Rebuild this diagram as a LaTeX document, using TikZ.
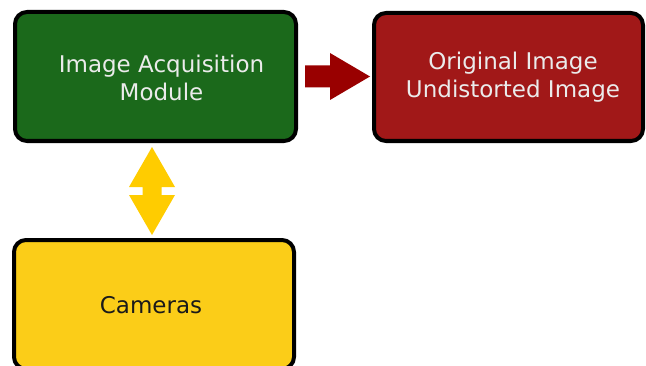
\documentclass[tikz,border=0pt]{standalone}
\usepackage{fontspec}
\setmainfont{DejaVu Sans}
\usetikzlibrary{calc}
\definecolor{boxgreen}{RGB}{27,105,27}
\definecolor{boxred}{RGB}{161,24,24}
\definecolor{boxyellow}{RGB}{251,205,24}
\definecolor{arrowred}{RGB}{153,0,0}
\definecolor{arrowyellow}{RGB}{255,204,0}
\definecolor{lighttext}{RGB}{235,235,235}
\definecolor{darktext}{RGB}{26,26,26}
\begin{document}
\begin{tikzpicture}[x=1pt,y=1pt,
  block/.style={draw=black, line width=4pt, rounded corners=12pt, inner sep=0pt},
  caption/.style={align=center, inner sep=0pt, font=\fontsize{23}{28}\selectfont},
  lighttxt/.style={caption, text=lighttext},
  darktxt/.style={caption, text=darktext}]
\useasboundingbox (0,0) rectangle (646,365);
\clip (0,0) rectangle (646,365);

% blocks, each with its caption placed on the centre
\node[block, fill=boxgreen, minimum width=281pt, minimum height=129pt,
  label={[lighttxt, xshift=6pt, yshift=-1pt]center:Image Acquisition\\Module}]
  (acq) at (155.5,288.5) {};
\node[block, fill=boxred, minimum width=269pt, minimum height=128pt,
  label={[lighttxt, xshift=4.5pt]center:Original Image\\Undistorted Image}]
  (img) at (508.5,288) {};
\node[block, fill=boxyellow, minimum width=280pt, minimum height=129pt,
  label={[darktxt, xshift=-3pt, yshift=-1pt]center:Cameras}]
  (cam) at (154,60.5) {};

% block arrow from the module to the images
\coordinate (rs) at ($(acq.east)+(7,0)$);
\coordinate (rt) at ($(rs -| img.west)+(-2,0)$);
\fill[arrowred] ($(rs)+(0,11)$) -- ($(rt)+(-40,11)$) -- ($(rt)+(-40,23.5)$)
  -- (rt) -- ($(rt)+(-40,-23.5)$) -- ($(rt)+(-40,-11)$) -- ($(rs)+(0,-11)$) -- cycle;

% double block arrow between the module and the cameras
\coordinate (ut) at ($(acq.south)+(-3.5,-4)$);
\coordinate (ub) at ($(ut |- cam.north)+(0,3)$);
\fill[arrowyellow] (ut) -- ($(ut)+(23,-40)$) -- ($(ut)+(9.5,-40)$)
  -- ($(ub)+(9.5,40)$) -- ($(ub)+(23,40)$) -- (ub) -- ($(ub)+(-23,40)$)
  -- ($(ub)+(-9.5,40)$) -- ($(ut)+(-9.5,-40)$) -- ($(ut)+(-23,-40)$) -- cycle;
\end{tikzpicture}
\end{document}
